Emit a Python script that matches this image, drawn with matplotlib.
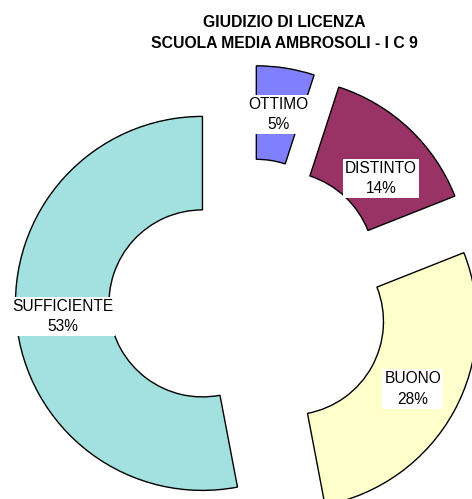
import matplotlib.pyplot as plt
import numpy as np

plt.rcParams['font.family'] = ['Liberation Sans', 'DejaVu Sans']

categories = ['OTTIMO', 'DISTINTO', 'BUONO', 'SUFFICIENTE']
values = [5, 14, 28, 53]
colors = ['#8080FF', '#993366', '#FFFFCC', '#A3E0E0']

# figure is 472x499 px, donut centre at px (249, 299), outer radius 187 px
W, H = 472, 499
cx, cy, R = 249, 299, 187

fig = plt.figure(figsize=(W / 100, H / 100), dpi=100)
ax = fig.add_axes([0, 0, 1, 1])

labels_iter = iter(categories)


def fmt(p):
    return '%s\n%d%%' % (next(labels_iter), round(p))


wedges, texts, autotexts = ax.pie(
    values, colors=colors, startangle=90, counterclock=False,
    explode=[0.25] * len(values), radius=1, autopct=fmt, pctdistance=0.75,
    wedgeprops=dict(width=0.5, edgecolor='black', linewidth=1),
    textprops=dict(fontsize=11.2, color='black'))

for t in autotexts:
    t.set_bbox(dict(facecolor='white', edgecolor='none', pad=1.5))
    t.set_linespacing(1.45)

# DISTINTO label sits a bit lower in the original
x, y = autotexts[1].get_position()
autotexts[1].set_position((x + 4 / R, y - 16 / R))

ax.set_aspect('auto')
ax.set_xlim(-cx / R, (W - cx) / R)
ax.set_ylim(-(H - cy) / R, cy / R)
ax.axis('off')

fig.text(284 / W, 1 - 33 / H, 'GIUDIZIO DI LICENZA\nSCUOLA MEDIA AMBROSOLI - I C 9',
         ha='center', va='center', fontsize=11.3, fontweight='bold',
         linespacing=1.45)

fig.savefig('out.png', dpi=100)
